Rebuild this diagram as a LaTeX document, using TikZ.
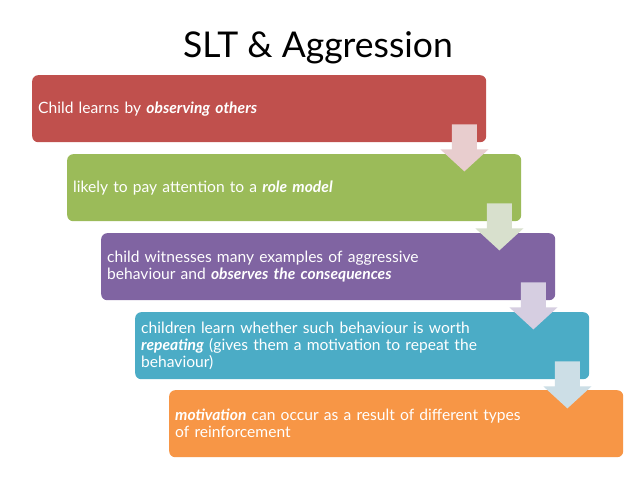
\documentclass[tikz,border=0pt]{standalone}
\usepackage{fontspec}
\setmainfont{Lato}
\usetikzlibrary{calc}
\definecolor{cred}{HTML}{C0504D}
\definecolor{cgreen}{HTML}{9BBB59}
\definecolor{cpurple}{HTML}{8064A2}
\definecolor{cteal}{HTML}{4BACC6}
\definecolor{corange}{HTML}{F79646}
\definecolor{ared}{HTML}{E8CDCE}
\definecolor{agreen}{HTML}{D8E0CD}
\definecolor{apurple}{HTML}{D6CEE1}
\definecolor{ateal}{HTML}{CCDEE6}
\tikzset{
  stepbox/.style={rounded corners=6pt, minimum width=454pt, minimum height=67pt,
    anchor=north west, inner xsep=6pt, inner ysep=0pt, text=white,
    font=\fontsize{15.6}{17}\selectfont, align=left, text width=442pt},
  titletext/.style={font=\fontsize{35.5}{40}\selectfont, anchor=base}
}
\begin{document}
\begin{tikzpicture}[x=1pt,y=-1pt]
\useasboundingbox (0,0) rectangle (638,479);
\fill[white] (0,0) rectangle (638,479);
\node[titletext] (title) at (318,57) {SLT \& Aggression};
\node[stepbox, fill=cred] (b1) at (32,75) {Child learns by \textbf{\textit{observing others}}};
\node[stepbox, fill=cgreen] (b2) at (67,154) {likely to pay attention to a \textbf{\textit{role model}}};
\node[stepbox, fill=cpurple] (b3) at (101,233) {child witnesses many examples of aggressive\\behaviour and \textbf{\textit{observes the consequences}}};
\node[stepbox, fill=cteal] (b4) at (135,312) {children learn whether such behaviour is worth\\\textbf{\textit{repeating}} (gives them a motivation to repeat the\\behaviour)};
\node[stepbox, fill=corange] (b5) at (169,390) {\textbf{\textit{motivation}} can occur as a result of different types\\of reinforcement};
\fill[ared] ($(b1.south east)+(-22,-18)$) ++(-12.5,0) -- ++(0,25) -- ++(-11.5,0)
    -- ++(24,22) -- ++(24,-22) -- ++(-11.5,0) -- ++(0,-25) -- cycle;
\fill[agreen] ($(b2.south east)+(-22,-18)$) ++(-12.5,0) -- ++(0,25) -- ++(-11.5,0)
    -- ++(24,22) -- ++(24,-22) -- ++(-11.5,0) -- ++(0,-25) -- cycle;
\fill[apurple] ($(b3.south east)+(-22,-18)$) ++(-12.5,0) -- ++(0,25) -- ++(-11.5,0)
    -- ++(24,22) -- ++(24,-22) -- ++(-11.5,0) -- ++(0,-25) -- cycle;
\fill[ateal] ($(b4.south east)+(-22,-18)$) ++(-12.5,0) -- ++(0,25) -- ++(-11.5,0)
    -- ++(24,22) -- ++(24,-22) -- ++(-11.5,0) -- ++(0,-25) -- cycle;
\end{tikzpicture}
\end{document}
